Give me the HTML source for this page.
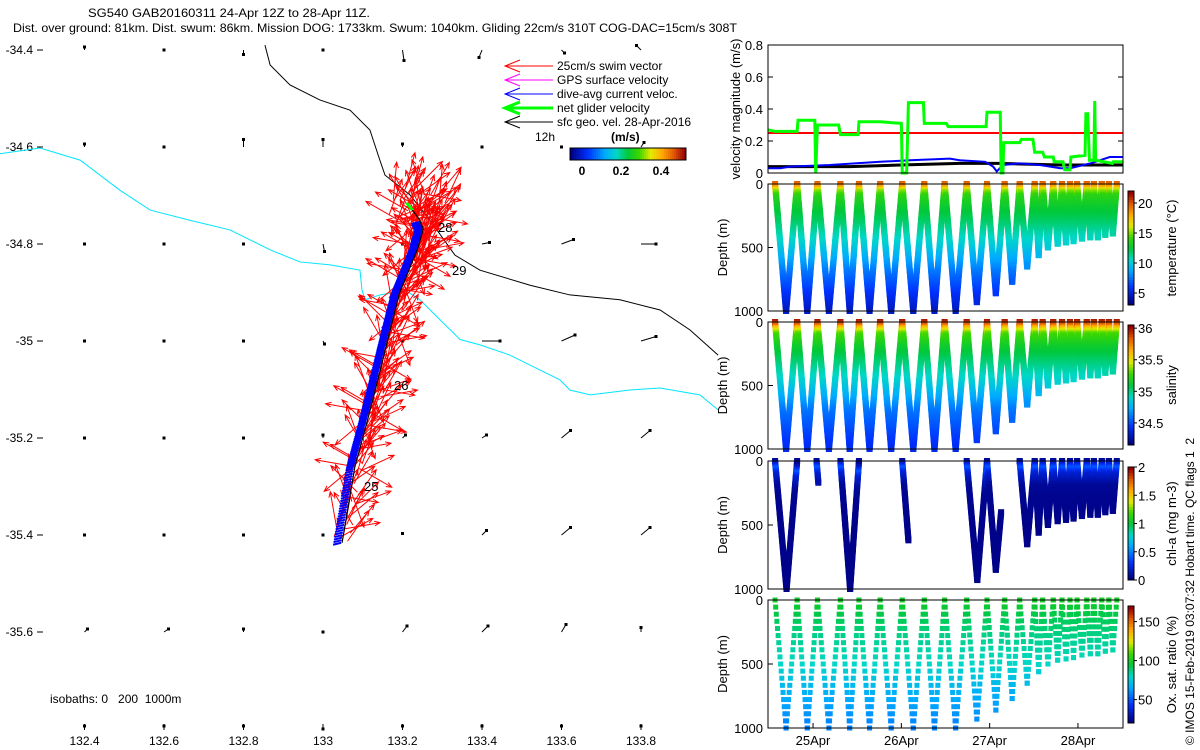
<!DOCTYPE html>
<html><head><meta charset="utf-8"><style>
html,body{margin:0;padding:0;background:#fff;width:1200px;height:750px;overflow:hidden}
svg{display:block;font-family:"Liberation Sans",sans-serif}
text{white-space:pre}
</style></head><body>
<svg id="fig" width="1200" height="750" viewBox="0 0 1200 750" xmlns="http://www.w3.org/2000/svg">
<text x="88" y="17" font-size="12" textLength="282" lengthAdjust="spacingAndGlyphs">SG540 GAB20160311 24-Apr 12Z to 28-Apr 11Z.</text>
<text x="13" y="32" font-size="12" textLength="724" lengthAdjust="spacingAndGlyphs">Dist. over ground: 81km. Dist. swum: 86km. Mission DOG: 1733km. Swum: 1040km. Gliding 22cm/s 310T COG-DAC=15cm/s 308T</text>
<g id="map"></g>
<g id="vel"></g>
<g id="temp"></g>
<g id="sal"></g>
<g id="chl"></g>
<g id="oxy"></g>
<text transform="translate(1194,745) rotate(-90)" font-size="12">© IMOS 15-Feb-2019 03:07:32 Hobart time. QC flags 1  2</text>
</svg>
<script>
// ---------------- data ----------------
const velGreenT=[24.49,24.57,24.82,24.83,25.02,25.03,25.05,25.29,25.31,25.51,25.52,25.76,26.00,26.01,26.06,26.08,26.25,26.26,26.51,26.53,26.96,26.97,27.12,27.13,27.15,27.16,27.34,27.36,27.49,27.51,27.60,27.62,27.72,27.73,27.83,27.85,27.91,27.92,28.08,28.09,28.11,28.13,28.18,28.19,28.20,28.39,28.40,28.51];
const velGreenV=[0.27,0.26,0.26,0.33,0.33,0,0.30,0.30,0.24,0.24,0.32,0.32,0.31,0,0,0.44,0.44,0.31,0.31,0.29,0.29,0.38,0.38,0,0,0.19,0.19,0.21,0.21,0.13,0.13,0.10,0.10,0.07,0.07,0.02,0.02,0.10,0.11,0.37,0.37,0.08,0.08,0.45,0.08,0.06,0.07,0.07];
const velBlueT=[24.49,24.63,24.74,25.19,25.76,26.10,26.55,26.66,26.95,27.04,27.08,27.15,27.34,27.57,27.80,27.91,28.14,28.36,28.51];
const velBlueV=[0.03,0.03,0.04,0.05,0.07,0.08,0.09,0.08,0.07,0.04,0.01,0.05,0.06,0.05,0.03,0.03,0.06,0.10,0.10];
const velBlackT=[24.49,25.42,25.99,26.66,27.12,27.80,28.51];
const velBlackV=[0.04,0.04,0.05,0.06,0.06,0.05,0.05];
const swimSpeed=0.25;
const surfaceTimes=[24.57,24.82,25.05,25.31,25.52,25.76,26.01,26.26,26.49,26.74,26.97,27.17,27.34,27.51,27.60,27.72,27.82,27.91,27.99,28.10,28.18,28.27,28.35,28.44];
const diveDepths=[1000,1000,1000,1000,1000,1000,1000,1000,1000,930,860,770,650,560,500,470,460,450,430,420,420,400,390];
const profDepth=[0,30,60,100,200,300,500,700,1000];
const tempProf=[20,18.5,15.5,13.8,12.8,12,10,7.5,4.5];
const salProf=[36,35.85,35.55,35.3,35.15,35.05,34.85,34.6,34.4];
const oxyProf=[100,99,97,94,90,86,80,68,57];
const chlProf=[0.05,0.2,0.4,0.2,0.05,0.03,0.02,0.02,0.02];
const chlSegs=[[24.57,0,24.70,1000],[24.70,1000,24.82,0],[25.04,0,25.06,170],[25.31,0,25.42,1000],[25.42,1000,25.52,0],[26.01,0,26.08,620],[26.74,0,26.86,930],[26.86,930,26.97,0],[26.97,0,27.07,850],[27.07,850,27.13,400]];
const trackLon=[133.048,133.08,133.113,133.138,133.168,133.193,133.218,133.238,133.252,133.243,133.225];
const trackLat=[-35.416,-35.26,-35.16,-35.08,-34.98,-34.90,-34.85,-34.81,-34.77,-34.75,-34.73];
const swimAngles=[20,35,10,60,-10,40,25,80,15,-30,50,30,5,70,45,-20,20,100,35,160,10,55,-45,30,200,25,65,15,230,40,-60,120,300,-80,190];
const geoLons=[132.4,132.6,132.8,133.0,133.2,133.4,133.6,133.8];
const geoLats=[-34.4,-34.6,-34.8,-35.0,-35.2,-35.4,-35.6,-35.8];
const geoU=[[0,0,0,0,0.01,-0.02,0.02,-0.03],[0,0,0,0,0,0,0,0.02],[0,0,0,0.01,0,0.05,0.08,0.10],[0,0,0,0.01,0,0.12,0.09,0.10],[0,0,0,0,0.02,0.03,0.06,0.06],[0,0,0,0,0,0.03,0.06,0.06],[0.02,0.03,0,0,0.03,0.04,0.03,0],[0,0,0,0,0,0,0,0]];
const geoV=[[0.02,0,-0.03,0,-0.07,-0.05,-0.02,0.03],[0.02,0,0.05,0.05,0.02,0,0,0.03],[0,0,0,-0.05,0,0.01,0.03,0],[0,0,0,-0.02,0,0,0.04,0.03],[0,0,0,0.02,0.02,0.02,0.05,0.05],[0,0,0,0,0.01,0.03,0.05,0.05],[0.02,0.02,0.02,0,0.04,0.04,0.05,0.03],[0.02,0.02,0.02,0,0.02,0.02,0.02,0.02]];
const lonTicks=[132.4,132.6,132.8,133,133.2,133.4,133.6,133.8];
const latTicks=[-34.4,-34.6,-34.8,-35,-35.2,-35.4,-35.6];
const dayTicks=[25,26,27,28];
const dayLabels=["25Apr","26Apr","27Apr","28Apr"];
const iso1000Lon=[132.854,132.867,132.917,132.992,133.068,133.118,133.143,133.156,133.219,133.269,133.332,133.395,133.521,133.621,133.747,133.848,133.923,133.994];
const iso1000Lat=[-34.390,-34.431,-34.472,-34.503,-34.524,-34.565,-34.627,-34.658,-34.699,-34.751,-34.823,-34.854,-34.885,-34.905,-34.915,-34.936,-34.977,-35.029];
const iso200Lon=[132.187,132.288,132.389,132.489,132.565,132.665,132.766,132.867,132.942,133.018,133.093,133.098,133.106,133.143,133.206,133.244,133.294,133.345,133.395,133.470,133.546,133.596,133.621,133.672,133.772,133.848,133.948,133.994];
const iso200Lat=[-34.614,-34.602,-34.627,-34.689,-34.730,-34.751,-34.771,-34.812,-34.837,-34.843,-34.854,-34.895,-34.915,-34.905,-34.895,-34.915,-34.956,-34.997,-35.008,-35.029,-35.060,-35.080,-35.101,-35.111,-35.101,-35.097,-35.111,-35.142];

// ---------------- helpers ----------------
const NS="http://www.w3.org/2000/svg";
function mk(parent,tag,attrs){const e=document.createElementNS(NS,tag);for(const k in attrs)e.setAttribute(k,attrs[k]);parent.appendChild(e);return e;}
function txt(parent,x,y,s,size,anchor,extra){const e=mk(parent,'text',Object.assign({x:x,y:y,'font-size':size||12,'text-anchor':anchor||'start'},extra||{}));e.textContent=s;return e;}
const cmapStops=[[0,0,0,130],[0.15,0,50,255],[0.3,0,170,255],[0.4,0,215,200],[0.5,0,200,60],[0.6,60,215,0],[0.7,225,235,0],[0.8,255,170,0],[0.9,225,90,0],[1,150,0,0]];
function jet(t){t=Math.max(0,Math.min(1,t));for(let i=1;i<cmapStops.length;i++){const a=cmapStops[i-1],b=cmapStops[i];if(t<=b[0]){const f=(t-a[0])/(b[0]-a[0]);return `rgb(${Math.round(a[1]+f*(b[1]-a[1]))},${Math.round(a[2]+f*(b[2]-a[2]))},${Math.round(a[3]+f*(b[3]-a[3]))})`;}}return 'rgb(150,0,0)';}
function interp(xs,ys,x){if(x<=xs[0])return ys[0];for(let i=1;i<xs.length;i++){if(x<=xs[i]){const f=(x-xs[i-1])/(xs[i]-xs[i-1]);return ys[i-1]+f*(ys[i]-ys[i-1]);}}return ys[ys.length-1];}

// ---------------- map ----------------
const map=document.getElementById('map');
const lonX=lon=>323+(lon-133)*397.5;
const latY=lat=>341-(lat+35)*485;
latTicks.forEach(v=>{const y=latY(v);const t=mk(map,'line',{x1:37,y1:y,x2:43,y2:y,stroke:'#000'});const l=txt(map,33,y+4,String(v),12,'end');});
lonTicks.forEach(v=>{const x=lonX(v);const t=mk(map,'line',{x1:x,y1:730,x2:x,y2:724,stroke:'#000'});const l=txt(map,x,745,String(v),12,'middle');});
function poly(g,lons,lats,color,w,name){const p=mk(g,'polyline',{points:lons.map((v,i)=>lonX(v)+','+latY(lats[i])).join(' '),fill:'none',stroke:color,'stroke-width':w});return p;}
poly(map,iso200Lon,iso200Lat,'#00e5ff',1,'isobath-200m');
poly(map,iso1000Lon,iso1000Lat,'#000',1,'isobath-1000m');
geoLats.forEach((la,r)=>geoLons.forEach((lo,c)=>{
  const x=lonX(lo),y=latY(la),dx=geoU[r][c]*150,dy=-geoV[r][c]*150;
  const a=mk(map,'line',{x1:x,y1:y,x2:x+dx,y2:y+dy,stroke:'#000','stroke-width':1});
  
  const d=mk(map,'rect',{x:x+dx-1.5,y:y+dy-1.5,width:3,height:3,fill:'#000'});
  
}));
function trackAt(f){const n=trackLon.length-1;const s=f*n;const i=Math.min(n-1,Math.floor(s));const g=s-i;return[lonX(trackLon[i]+g*(trackLon[i+1]-trackLon[i])),latY(trackLat[i]+g*(trackLat[i+1]-trackLat[i]))];}
const L=swimSpeed*150;
for(let k=0;k<300;k++){
  let f=k/300;let[x,y]=trackAt(f);
  x+=((k*13)%17)-8;y+=((k*7)%13)-6;
  if(f>0.8){x+=((k*7)%40)-22;y+=((k*11)%34)-26;}
  const ang=swimAngles[k%swimAngles.length]*Math.PI/180;
  const x2=x+L*Math.sin(ang),y2=y-L*Math.cos(ang);
  const r=mk(map,'path',{d:`M${x},${y}L${x2},${y2}M${x2-6*Math.sin(ang-0.4)},${y2+6*Math.cos(ang-0.4)}L${x2},${y2}L${x2-6*Math.sin(ang+0.4)},${y2+6*Math.cos(ang+0.4)}`,fill:'none',stroke:'#ff0000','stroke-width':1});
  
}
for(let k=0;k<260;k++){const[x,y]=trackAt(k/260*0.88);const b=mk(map,'line',{x1:x-1,y1:y,x2:x-9,y2:y+2,stroke:'#0000ff','stroke-width':2});}
poly(map,trackLon,trackLat,'#000',1.2,'glider-track');
const gn=mk(map,'line',{x1:lonX(133.225),y1:latY(-34.73),x2:lonX(133.21),y2:latY(-34.715),stroke:'#00ff00','stroke-width':3});
[['28',438,232],['29',452,275],['26',394,390],['25',364,491]].forEach(d=>{const l=txt(map,d[1],d[2],d[0],13);});
const leg=[['25cm/s swim vector','#ff0000',1],['GPS surface velocity','#ff00ff',1],['dive-avg current veloc.','#0000ff',1],['net glider velocity','#00ff00',3],['sfc geo. vel. 28-Apr-2016','#000',1]];
leg.forEach((e,i)=>{const y=66+i*14;
  const p=mk(map,'path',{d:`M553,${y}L505,${y}M520,${y-6}L505,${y}L520,${y+6}`,fill:'none',stroke:e[1],'stroke-width':e[2]});
  const t=txt(map,557,y+4,e[0],12);});
txt(map,535,141,'12h',12);
txt(map,611,141,'(m/s)',12,'start',{'font-weight':'bold'});
for(let i=0;i<58;i++){const r=mk(map,'rect',{x:570+i*2,y:148,width:2.2,height:12,fill:jet(i/57)});}
mk(map,'rect',{x:570,y:148,width:116,height:12,fill:'none',stroke:'#000'});
[['0',582],['0.2',621],['0.4',661]].forEach(d=>{txt(map,d[1],175,d[0],12,'middle',{'font-weight':'bold'});});
txt(map,50,703,'isobaths: 0   200  1000m',12);

// ---------------- right panels ----------------
const X0=768,X1=1123,T0=24.49,T1=28.51;
const tx=t=>X0+(t-T0)/(T1-T0)*(X1-X0);
function frame(g,y0,y1,name){const f=mk(g,'rect',{x:X0,y:y0,width:X1-X0,height:y1-y0,fill:'none',stroke:'#000'});}
const vel=document.getElementById('vel');
const VY0=45,VY1=173;const vy=v=>VY1-v/0.8*(VY1-VY0);
[0,0.2,0.4,0.6,0.8].forEach(v=>{const y=vy(v);mk(vel,'line',{x1:X0,y1:y,x2:X0+5,y2:y,stroke:'#000'});mk(vel,'line',{x1:X1,y1:y,x2:X1-5,y2:y,stroke:'#000'});const l=txt(vel,763,y+5,String(v),13,'end');});
const rl=mk(vel,'line',{x1:X0,y1:vy(swimSpeed),x2:X1,y2:vy(swimSpeed),stroke:'#ff0000','stroke-width':2});
function vline(ts,vs,color,w,name){const p=mk(vel,'polyline',{points:ts.map((t,i)=>tx(t)+','+vy(vs[i])).join(' '),fill:'none',stroke:color,'stroke-width':w});}
vline(velBlackT,velBlackV,'#000',3,'geo-velocity-line');
vline(velBlueT,velBlueV,'#0000ff',2,'dive-avg-current-line');
vline(velGreenT,velGreenV,'#00ff00',3,'net-glider-velocity-line');
frame(vel,VY0,VY1,'velocity-axes');
txt(vel,0,0,'velocity magnitude (m/s)',13,'middle',{transform:`translate(740,${(VY0+VY1)/2}) rotate(-90)`});

function diveSamples(step){const pts=[];
  for(let i=0;i<diveDepths.length;i++){const a=surfaceTimes[i],b=surfaceTimes[i+1],m=(a+b)/2,D=diveDepths[i];
    const n=Math.max(4,Math.round(D/step));
    for(let k=0;k<=n;k++){const d=D*k/n;pts.push([a+(m-a)*k/n,d]);pts.push([b-(b-m)*k/n,d]);}}
  return pts;}
function panel(id,y0,y1,pts,prof,vmin,vmax,cb0,cb1,cbTicks,cbTitle,name,ms){
  const g=document.getElementById(id);const dy=d=>y0+d/1000*(y1-y0);
  pts.forEach(p=>{const v=interp(profDepth,prof,p[1]);const r=mk(g,'rect',{x:tx(p[0])-ms/2,y:dy(p[1])-ms/2,width:ms,height:ms,fill:jet((v-vmin)/(vmax-vmin))});
    
    });
  frame(g,y0,y1,name+'-axes');
  [0,500,1000].forEach(d=>{const y=dy(d);mk(g,'line',{x1:X0,y1:y,x2:X0+5,y2:y,stroke:'#000'});const l=txt(g,763,y+5,String(d),13,'end');});
  txt(g,0,0,'Depth (m)',13,'middle',{transform:`translate(727,${(y0+y1)/2}) rotate(-90)`});
  const n=40;for(let i=0;i<n;i++){const c=mk(g,'rect',{x:1128,y:cb1-(i+1)*(cb1-cb0)/n,width:6,height:(cb1-cb0)/n+0.5,fill:jet(i/(n-1))});}
  mk(g,'rect',{x:1128,y:cb0,width:6,height:cb1-cb0,fill:'none',stroke:'#000'});
  cbTicks.forEach(v=>{const y=cb1-(v-vmin)/(vmax-vmin)*(cb1-cb0);mk(g,'line',{x1:1134,y1:y,x2:1137,y2:y,stroke:'#000'});const l=txt(g,1138,y+5,String(v),13);});
  txt(g,0,0,cbTitle,13,'middle',{transform:`translate(1176,${(cb0+cb1)/2}) rotate(-90)`});
  return g;}
const dense=diveSamples(12);
panel('temp',184,311,dense,tempProf,3,22,191,305,[5,10,15,20],'temperature (°C)','temperature',6);
panel('sal',322,449,dense,salProf,34.15,36.05,325,445,[34.5,35,35.5,36],'salinity','salinity',6);
const chlPts=[];
chlSegs.forEach(s=>{const n=Math.max(3,Math.round(Math.abs(s[3]-s[1])/12));for(let k=0;k<=n;k++)chlPts.push([s[0]+(s[2]-s[0])*k/n,s[1]+(s[3]-s[1])*k/n]);});
dense.forEach(p=>{if(p[0]>=27.34)chlPts.push(p);});
panel('chl',461,589,chlPts,chlProf,0,2,467,580,[0,0.5,1,1.5,2],'chl-a (mg m-3)','chl',6);
const oxyPts=diveSamples(55);
const og=panel('oxy',600,728,oxyPts,oxyProf,20,170,606,723,[50,100,150],'Ox. sat. ratio (%)','oxygen',5);
dayTicks.forEach((d,i)=>{const x=tx(d);mk(og,'line',{x1:x,y1:728,x2:x,y2:723,stroke:'#000'});const l=txt(og,x,745,dayLabels[i],13,'middle');});
</script>
</body></html>
